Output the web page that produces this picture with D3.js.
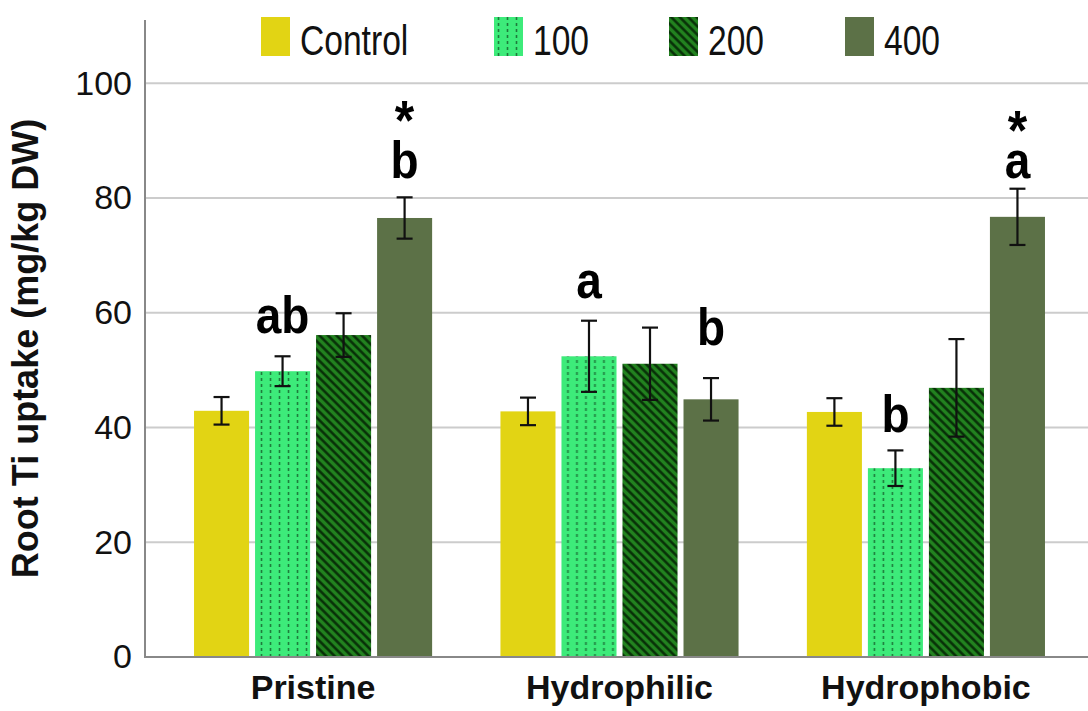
<!DOCTYPE html>
<html>
<head>
<meta charset="utf-8">
<script src="https://cdn.jsdelivr.net/npm/d3@7/dist/d3.min.js"></script>
<style>
  html, body { margin: 0; padding: 0; background: #fff; }
  svg { display: block; }
</style>
</head>
<body>
<svg id="chart" width="1088" height="711"></svg>
<script>
// ---------- data ----------
const categories = ["Pristine", "Hydrophilic", "Hydrophobic"];
const seriesNames = ["Control", "100", "200", "400"];
const controlValues = [42.9, 42.8, 42.7];
const controlErrors = [2.4, 2.4, 2.4];
const values100 = [49.8, 52.4, 32.9];
const errors100 = [2.6, 6.2, 3.1];
const values200 = [56.1, 51.1, 46.9];
const errors200 = [3.8, 6.3, 8.5];
const values400 = [76.5, 44.9, 76.7];
const errors400 = [3.6, 3.7, 4.9];
const yTickValues = [0, 20, 40, 60, 80, 100];
const yTitle = "Root Ti uptake (mg/kg DW)";
// annotations (letters / asterisks) placed at a data height above a bar
const annotGroup  = ["Pristine", "Pristine", "Pristine", "Hydrophilic", "Hydrophilic", "Hydrophobic", "Hydrophobic", "Hydrophobic"];
const annotSeries = ["100", "400", "400", "100", "400", "100", "400", "400"];
const annotText   = ["ab", "b", "*", "a", "b", "b", "a", "*"];
const annotValue  = [56.5, 83.5, 90.2, 62.6, 54.4, 39.2, 83.5, 88.6];

const allValues = [controlValues, values100, values200, values400];
const allErrors = [controlErrors, errors100, errors200, errors400];
const rows = [];
categories.forEach((c, ci) => {
  seriesNames.forEach((s, si) => {
    rows.push({ cat: c, series: s, value: allValues[si][ci], err: allErrors[si][ci] });
  });
});

// ---------- layout ----------
const svg = d3.select("#chart");
const axisX = 145, baseY = 657, topY = 20;
const x0 = d3.scaleBand().domain(categories).range([axisX, 1094]).paddingInner(0.223).paddingOuter(0.16);
const x1 = d3.scaleBand().domain(seriesNames).range([0, x0.bandwidth()]).paddingInner(0.098).paddingOuter(0);
const y = d3.scaleLinear().domain([0, 111]).range([baseY, topY]);

const fills = { "Control": "#e2d414", "100": "url(#pat100)", "200": "url(#pat200)", "400": "#5c7147" };
const fontFam = "'Liberation Sans', Arial, sans-serif";

// ---------- patterns ----------
const defs = svg.append("defs");
const p100 = defs.append("pattern").attr("id", "pat100").attr("patternUnits", "userSpaceOnUse")
  .attr("width", 9).attr("height", 6);
p100.append("rect").attr("width", 9).attr("height", 6).attr("fill", "#3deb7a");
p100.append("line").attr("x1", 4.5).attr("x2", 4.5).attr("y1", 0).attr("y2", 3)
  .attr("stroke", "#1d7a3b").attr("stroke-width", 1.6);

const p200 = defs.append("pattern").attr("id", "pat200").attr("patternUnits", "userSpaceOnUse")
  .attr("width", 6).attr("height", 6).attr("patternTransform", "rotate(-45)");
p200.append("rect").attr("width", 6).attr("height", 6).attr("fill", "#22821f");
p200.append("line").attr("x1", 1.5).attr("x2", 1.5).attr("y1", 0).attr("y2", 6)
  .attr("stroke", "#062a06").attr("stroke-width", 2.4);

// ---------- grid ----------
svg.append("g").selectAll("line").data(yTickValues.filter(d => d > 0)).join("line")
  .attr("x1", axisX).attr("x2", 1088)
  .attr("y1", d => y(d)).attr("y2", d => y(d))
  .attr("stroke", "#cccccc").attr("stroke-width", 2);

// ---------- bars ----------
const groups = svg.append("g").selectAll("g").data(categories).join("g")
  .attr("transform", d => `translate(${x0(d)},0)`);

groups.selectAll("rect").data(c => rows.filter(r => r.cat === c)).join("rect")
  .attr("x", d => x1(d.series))
  .attr("width", x1.bandwidth())
  .attr("y", d => y(d.value))
  .attr("height", d => y(0) - y(d.value))
  .attr("fill", d => fills[d.series]);

// error bars
const capW = 16;
const eb = groups.selectAll("g.eb").data(c => rows.filter(r => r.cat === c)).join("g").attr("class", "eb")
  .attr("transform", d => `translate(${x1(d.series) + x1.bandwidth() / 2},0)`)
  .attr("stroke", "#111").attr("stroke-width", 2.2);
eb.append("line").attr("y1", d => y(d.value + d.err)).attr("y2", d => y(d.value - d.err));
eb.append("line").attr("x1", -capW / 2).attr("x2", capW / 2).attr("y1", d => y(d.value + d.err)).attr("y2", d => y(d.value + d.err));
eb.append("line").attr("x1", -capW / 2).attr("x2", capW / 2).attr("y1", d => y(d.value - d.err)).attr("y2", d => y(d.value - d.err));

// ---------- axes ----------
// y axis
const yAxis = svg.append("g").attr("transform", `translate(${axisX},0)`)
  .call(d3.axisLeft(y).tickValues(yTickValues).tickSize(0).tickPadding(13).tickFormat(d3.format("d")));
yAxis.select(".domain").remove();
yAxis.selectAll("text").attr("font-family", fontFam)
  .attr("font-size", 34).attr("fill", "#111");
svg.append("line").attr("x1", axisX).attr("x2", axisX).attr("y1", topY).attr("y2", baseY)
  .attr("stroke", "#888").attr("stroke-width", 2);

// x axis
const xAxis = svg.append("g").attr("transform", `translate(0,${baseY})`)
  .call(d3.axisBottom(x0).tickSize(0));
xAxis.select(".domain").remove();
xAxis.selectAll("text").attr("y", 42).attr("dy", 0)
  .attr("font-family", fontFam).attr("font-weight", "bold")
  .attr("font-size", 34).attr("fill", "#111");
svg.append("line").attr("x1", axisX - 1).attr("x2", 1088).attr("y1", baseY).attr("y2", baseY)
  .attr("stroke", "#888").attr("stroke-width", 2);

// y title
svg.append("text")
  .attr("transform", `translate(38,${(topY + baseY) / 2 + 10}) rotate(-90)`)
  .attr("text-anchor", "middle")
  .attr("font-family", fontFam).attr("font-weight", "bold")
  .attr("font-size", 36).attr("fill", "#111")
  .text(yTitle);

// ---------- annotations ----------
svg.append("g").selectAll("text").data(annotText).join("text")
  .attr("transform", (d, i) => `translate(${x0(annotGroup[i]) + x1(annotSeries[i]) + x1.bandwidth() / 2},${y(annotValue[i])}) scale(1,1.12)`)
  .attr("text-anchor", "middle")
  .attr("font-family", fontFam).attr("font-weight", "bold")
  .attr("font-size", d => d === "*" ? 50 : 46).attr("fill", "#000")
  .text(d => d);

// ---------- legend ----------
const legendSwatchX = [261, 494, 669, 845];
const legend = svg.append("g").selectAll("g").data(seriesNames).join("g")
  .attr("transform", (d, i) => `translate(${legendSwatchX[i]},17)`);
legend.append("rect").attr("width", 29).attr("height", 39).attr("fill", d => fills[d]);
legend.append("text")
  .attr("transform", "translate(39,38) scale(0.8,1)")
  .attr("font-family", fontFam)
  .attr("font-size", 42).attr("fill", "#111")
  .text(d => d);
</script>
</body>
</html>
